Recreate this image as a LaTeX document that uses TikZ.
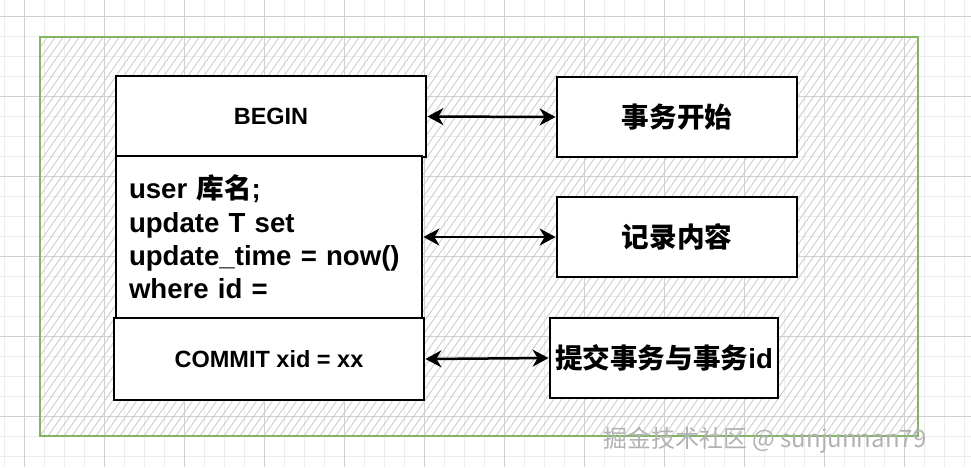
\documentclass[tikz,border=0pt]{standalone}
\usepackage{fontspec}
\setmainfont{Liberation Sans}
\newfontfamily\cjk{Noto Sans CJK SC}
\usetikzlibrary{arrows.meta}
\definecolor{gridminor}{HTML}{EDEDED}
\definecolor{gridmajor}{HTML}{D0D0D0}
\definecolor{hatchc}{HTML}{CFCFCF}
\definecolor{framec}{HTML}{82B366}
\tikzset{
  box/.style={draw=black, line width=2.8pt, fill=white, rectangle, inner sep=0pt},
  bigtext/.style={font=\bfseries\fontsize{27.6}{33.3}\selectfont},
  smalltext/.style={font=\bfseries\fontsize{23.5}{28}\selectfont},
  link/.style={line width=2.5pt, {Stealth[length=16pt,width=17pt,inset=5pt]}-{Stealth[length=16pt,width=17pt,inset=5pt]}},
  minorline/.style={draw=gridminor, line width=1pt},
  majorline/.style={draw=gridmajor, line width=1pt},
  hatchline/.style={draw=hatchc, line width=0.9pt},
}
\begin{document}
\begin{tikzpicture}[x=1pt,y=-1pt]
\useasboundingbox (0,0) rectangle (971,467);
\fill[white] (0,0) rectangle (971,467);
% grid
\foreach \x in {4,24,...,964} \draw[minorline] (\x,0) -- (\x,467);
\foreach \y in {16,36,...,456} \draw[minorline] (0,\y) -- (971,\y);
\foreach \x in {24,104,...,944} \draw[majorline] (\x,0) -- (\x,467);
\foreach \y in {16,96,...,416} \draw[majorline] (0,\y) -- (971,\y);
% hatched frame
\begin{scope}
  \clip (40,37) rectangle (918,436);
  \foreach \i in {-32,...,116} \draw[hatchline] (\i*8,436) -- ++(280,-400);
\end{scope}
\draw[framec, line width=2.2pt] (40,37) rectangle (918,436);
% left column
\node[box, smalltext, minimum width=310pt, minimum height=81pt] (begin) at (271,116.5) {BEGIN};
\node[box, bigtext, minimum width=306pt, minimum height=162pt, text width=280pt, inner xsep=13pt, align=left] (body) at (269,237)
  {user {\cjk 库名};\\update T set\\update\_time = now()\\where id =};
\node[box, smalltext, minimum width=310pt, minimum height=82pt] (commit) at (269,359) {COMMIT xid = xx};
% right column
\node[box, bigtext, minimum width=240pt, minimum height=80pt] (r1) at (677,117) {\cjk 事务开始};
\node[box, bigtext, minimum width=240pt, minimum height=80pt] (r2) at (677,237) {\cjk 记录内容};
\node[box, bigtext, minimum width=228pt, minimum height=80pt] (r3) at (664,358) {{\cjk 提交事务与事务}id};
% links
\draw[link] (begin.east) -- (r1.west);
\draw[link] (body.east |- r2.west) -- (r2.west);
\draw[link] (commit.east) -- (r3.west);
% watermark
\node[anchor=base west, inner sep=0pt, text=gray!60, font=\cjk\fontsize{24}{24}\selectfont] (wm) at (603,447) {掘金技术社区 @ sunjunnan79};
\end{tikzpicture}
\end{document}
